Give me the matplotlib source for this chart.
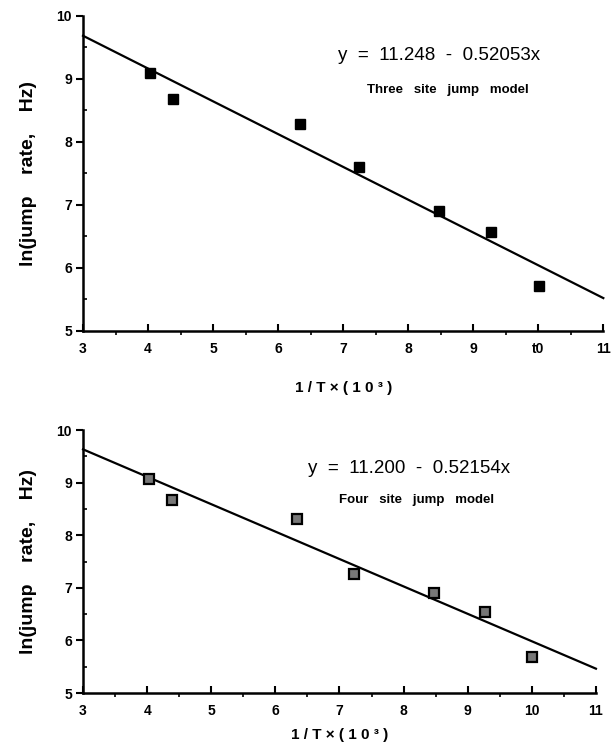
import matplotlib
matplotlib.use("Agg")
import matplotlib.pyplot as plt
import numpy as np
from matplotlib.ticker import MultipleLocator

plt.rcParams['font.family'] = ['Liberation Sans', 'DejaVu Sans']

# Data
inv_t_three = [4.03, 4.39, 6.34, 7.25, 8.48, 9.27, 10.01]
ln_rate_three = [9.09, 8.68, 8.29, 7.61, 6.91, 6.57, 5.71]
fit_three = (11.248, 0.52053)

inv_t_four = [4.03, 4.38, 6.33, 7.22, 8.47, 9.27, 10.01]
ln_rate_four = [9.08, 8.68, 8.31, 7.27, 6.91, 6.55, 5.69]
fit_four = (11.200, 0.52154)

x_ticks = [3, 4, 5, 6, 7, 8, 9, 10, 11]
x_ticklabels_top = ["3", "4", "5", "6", "7", "8", "9", "t0", "11"]
x_ticklabels_bottom = ["3", "4", "5", "6", "7", "8", "9", "10", "11"]
y_ticks = [5, 6, 7, 8, 9, 10]

fig = plt.figure(figsize = (6.15, 7.51), dpi = 100)
ax_top = fig.add_axes([0.135, 0.5593, 0.846, 0.4194])
ax_bot = fig.add_axes([0.135, 0.0772, 0.834, 0.350])


def style_axis(ax, xlabels, xlabel_pad):
    ax.set_xlim(3, 11)
    ax.set_ylim(5, 10)
    for side in ("top", "right"):
        ax.spines[side].set_visible(False)
    for side in ("left", "bottom"):
        ax.spines[side].set_linewidth(1.8)
    ax.set_xticks(x_ticks)
    ax.set_xticklabels(xlabels)
    ax.set_yticks(y_ticks)
    ax.xaxis.set_minor_locator(MultipleLocator(0.5))
    ax.yaxis.set_minor_locator(MultipleLocator(0.5))
    ax.tick_params(axis = "x", which = "major", direction = "in", length = 5, width = 1.5, pad = 8)
    ax.tick_params(axis = "x", which = "minor", direction = "out", length = 3, width = 1.2)
    ax.tick_params(axis = "y", which = "major", direction = "out", length = 5, width = 1.5, pad = 3)
    ax.tick_params(axis = "y", which = "minor", direction = "in", length = 3, width = 1.2)
    for lbl in ax.get_xticklabels() + ax.get_yticklabels():
        lbl.set_fontsize(10)
        lbl.set_fontweight("bold")
    ax.set_ylabel("ln(jump    rate,    Hz)", fontsize = 14, fontweight = "bold", labelpad = 14)
    ax.set_xlabel("1 / T × ( 1 0 ³ )", fontsize = 11, fontweight = "bold", labelpad = xlabel_pad)


# Top panel: three site model
style_axis(ax_top, x_ticklabels_top, 18)
xs = np.array([3, 11])
ax_top.plot(xs, fit_three[0] - fit_three[1] * xs, color = "black", lw = 1.6, clip_on = False)
ax_top.plot(inv_t_three, ln_rate_three, "s", color = "black", ms = 6.5)
ax_top.text(0.684, 0.876, "y  =  11.248  -  0.52053x", transform = ax_top.transAxes,
            ha = "center", va = "center", fontsize = 13.5)
ax_top.text(0.702, 0.765, "Three   site   jump   model", transform = ax_top.transAxes,
            ha = "center", va = "center", fontsize = 9.5, fontweight = "bold")

# Bottom panel: four site model
style_axis(ax_bot, x_ticklabels_bottom, 7)
ax_bot.plot(xs, fit_four[0] - fit_four[1] * xs, color = "black", lw = 1.6, clip_on = False)
ax_bot.plot(inv_t_four, ln_rate_four, "s", mfc = "#777777", mec = "black", mew = 1.6, ms = 6.5)
ax_bot.text(0.635, 0.855, "y  =  11.200  -  0.52154x", transform = ax_bot.transAxes,
            ha = "center", va = "center", fontsize = 13.5)
ax_bot.text(0.65, 0.734, "Four   site   jump   model", transform = ax_bot.transAxes,
            ha = "center", va = "center", fontsize = 9.5, fontweight = "bold")

fig.savefig("out.png", dpi = 100)
